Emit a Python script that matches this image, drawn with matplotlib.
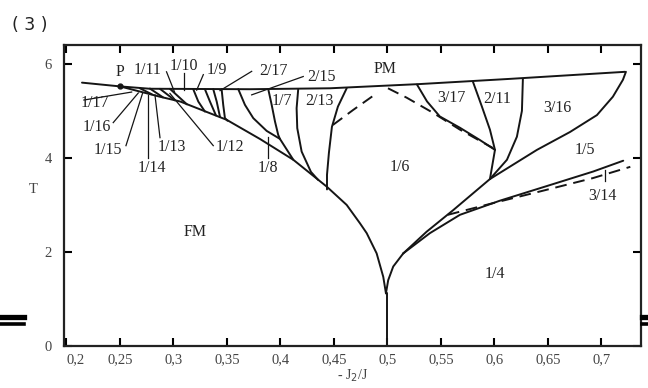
import matplotlib.pyplot as plt
from matplotlib.lines import Line2D

plt.rcParams['font.family'] = 'Liberation Serif'

# --- fronteras de fase (x = -J2/J, y = T) ---
pm_line = [(0.2145, 5.60), (0.25, 5.52), (0.278, 5.47), (0.3715, 5.46), (0.4463, 5.48),
           (0.5304, 5.57), (0.6145, 5.68), (0.722, 5.83)]
fm_line = [(0.25, 5.52), (0.2874, 5.30), (0.3061, 5.20), (0.3497, 4.81), (0.381, 4.40),
           (0.412, 3.96), (0.4432, 3.39), (0.4619, 3.0), (0.4743, 2.61), (0.4806, 2.40),
           (0.4899, 1.97), (0.4961, 1.47), (0.4986, 1.12)]
stem = [(0.5, 0.0), (0.5, 1.12)]
cusp_right = [(0.4986, 1.12), (0.5007, 1.40), (0.5054, 1.69), (0.5148, 1.97)]
line_a = [(0.5148, 1.97), (0.5366, 2.43), (0.5615, 2.89), (0.5802, 3.25), (0.5958, 3.55)]
line_b = [(0.5148, 1.97), (0.5397, 2.40), (0.5678, 2.79), (0.6051, 3.09), (0.6488, 3.40),
          (0.6923, 3.71), (0.7204, 3.94)]
b_3_16 = [(0.5958, 3.55), (0.6397, 4.17), (0.6706, 4.55), (0.6958, 4.91), (0.7107, 5.30),
          (0.7201, 5.66), (0.7229, 5.83)]
b_2_11_r = [(0.6266, 5.68), (0.6257, 5.0), (0.621, 4.45), (0.6117, 3.96), (0.5958, 3.55)]
b_2_11_l = [(0.5799, 5.62), (0.5883, 5.09), (0.5958, 4.60), (0.6005, 4.17), (0.5958, 3.55)]
b_3_17 = [(0.5276, 5.56), (0.537, 5.20), (0.549, 4.88), (0.5678, 4.64), (0.5864, 4.38),
          (0.6005, 4.17)]
b_2_13 = [(0.4619, 5.48), (0.4537, 5.09), (0.4481, 4.66), (0.4453, 4.11), (0.4435, 3.64),
          (0.4435, 3.33)]
b_c8 = [(0.4166, 5.46), (0.4151, 5.057), (0.4157, 4.632), (0.4198, 4.134), (0.4285, 3.702),
        (0.4353, 3.53)]
b_c7 = [(0.3886, 5.46), (0.3918, 5.128), (0.3949, 4.772), (0.3979, 4.489), (0.3995, 4.404),
        (0.4061, 4.17), (0.412, 3.96)]
b_c6 = [(0.3606, 5.46), (0.3668, 5.128), (0.3746, 4.845), (0.3871, 4.574), (0.3995, 4.404)]
b_c5 = [(0.345, 5.46), (0.3465, 5.128), (0.3481, 4.845), (0.3505, 4.79)]
b_c4 = [(0.3372, 5.46), (0.3404, 5.198), (0.3435, 4.87)]
b_c3 = [(0.3294, 5.46), (0.3341, 5.198), (0.3397, 4.904)]
b_c2 = [(0.3185, 5.46), (0.3232, 5.198), (0.3294, 4.985)]
b_c1 = [(0.2967, 5.468), (0.3126, 5.138)]
b_c0 = [(0.2874, 5.468), (0.3014, 5.223)]
b_cm1 = [(0.278, 5.474), (0.2902, 5.287)]
b_cm2 = [(0.2687, 5.479), (0.2799, 5.351)]

dash_1_6 = [(0.449, 4.70), (0.468, 5.02), (0.491, 5.39)]
dash_3_17 = [(0.5005, 5.48), (0.518, 5.28), (0.5425, 4.96), (0.5678, 4.60), (0.593, 4.28),
             (0.5986, 4.21)]
dash_3_14 = [(0.5565, 2.79), (0.599, 3.04), (0.645, 3.30), (0.692, 3.57), (0.727, 3.81)]

solid_lines = [pm_line, fm_line, stem, cusp_right, line_a, line_b, b_3_16, b_2_11_r,
               b_2_11_l, b_3_17, b_2_13, b_c8, b_c7, b_c6, b_c5, b_c4, b_c3, b_c2,
               b_c1, b_c0, b_cm1, b_cm2]
dashed_lines = [dash_1_6, dash_3_17, dash_3_14]

# etiquetas de fase
fases = ['PM', 'FM', '1/4', '1/5', '3/14', '3/16', '2/11', '3/17', '1/6', '2/13', '1/7',
         '1/8', '2/15', '2/17', '1/9', '1/10', '1/11', '1/12', '1/13', '1/14', '1/15',
         '1/16', '1/17', 'P']
fase_x = [0.4977, 0.32, 0.6005, 0.6846, 0.7014, 0.6585, 0.603, 0.56, 0.5117, 0.436, 0.4011,
          0.3886, 0.4385, 0.3933, 0.3404, 0.3098, 0.2755, 0.3528, 0.2983, 0.2796, 0.2391,
          0.2282, 0.2266, 0.25]
fase_y = [5.89, 2.43, 1.53, 4.17, 3.19, 5.06, 5.26, 5.27, 3.81, 5.22, 5.20,
          3.78, 5.73, 5.84, 5.87, 5.96, 5.87, 4.24, 4.23, 3.78, 4.17,
          4.65, 5.16, 5.82]

# lineas indicadoras (inicio, fin)
indicadores = [((0.2163, 5.23), (0.2609, 5.40)), ((0.2437, 4.75), (0.2671, 5.38)),
               ((0.2556, 4.26), (0.2712, 5.38)), ((0.2765, 3.99), (0.2765, 5.34)),
               ((0.2874, 4.43), (0.2827, 5.34)), ((0.3372, 4.26), (0.2967, 5.37)),
               ((0.2935, 5.83), (0.301, 5.40)), ((0.3096, 5.80), (0.3096, 5.44)),
               ((0.3279, 5.77), (0.3217, 5.44)), ((0.3731, 5.84), (0.3435, 5.43)),
               ((0.4213, 5.73), (0.3731, 5.34)), ((0.3886, 4.45), (0.3886, 3.99)),
               ((0.7033, 3.75), (0.7033, 3.50))]

xticks = [0.2, 0.25, 0.3, 0.35, 0.4, 0.45, 0.5, 0.55, 0.6, 0.65, 0.7]
xtick_labels = ['0,2', '0,25', '0,3', '0,35', '0,4', '0,45', '0,5', '0,55', '0,6', '0,65', '0,7']
yticks = [0, 2, 4, 6]

fig = plt.figure(figsize=(6.48, 3.88), dpi=100)
ax = fig.add_axes([0.0988, 0.1082, 0.8904, 0.7758])

color = '#151515'
for curva in solid_lines:
    ax.plot([p[0] for p in curva], [p[1] for p in curva], color=color, lw=1.4,
            solid_capstyle='round', solid_joinstyle='round')
for curva in dashed_lines:
    ax.plot([p[0] for p in curva], [p[1] for p in curva], color=color, lw=1.4,
            linestyle=(0, (6, 3.5)))
for (x0, y0), (x1, y1) in indicadores:
    ax.plot([x0, x1], [y0, y1], color=color, lw=0.9)
ax.plot([0.25], [5.52], 'o', color=color, ms=3.5)

for etiqueta, x, y in zip(fases, fase_x, fase_y):
    ax.text(x, y, etiqueta, ha='center', va='center', fontsize=11.5, color='#222222')

ax.set_xlim(0.1977, 0.737)
ax.set_ylim(0, 6.4)
ax.set_xticks(xticks)
ax.set_xticklabels(xtick_labels)
ax.get_xticklabels()[0].set_ha('left')
ax.set_yticks(yticks)
ax.tick_params(direction='in', length=6, width=1.5, top=True, right=True,
               labelsize=10.5, labelcolor='#444444', pad=5)
ax.tick_params(axis='y', pad=9)
for s in ax.spines.values():
    s.set_linewidth(1.6)
    s.set_color('#222222')

ax.set_xlabel('- J$_2$/J', fontsize=10, color='#444444', labelpad=1)
ax.set_ylabel('T', fontsize=10.5, color='#444444', rotation=0, labelpad=8)

fig.text(0.018, 0.935, '( 3 )', family='DejaVu Sans', fontsize=12.5, color='#222222',
         va='center')

# barras dobles en los bordes de la pagina escaneada
for x0, x1 in [(0.0, 0.037), (0.99, 1.0)]:
    fig.add_artist(Line2D([x0, x1], [1 - 317 / 388, 1 - 317 / 388], color='black', lw=3.8))
    fig.add_artist(Line2D([x0, x1], [1 - 324 / 388, 1 - 324 / 388], color='black', lw=2.6))

plt.savefig('out.png', dpi=100)
